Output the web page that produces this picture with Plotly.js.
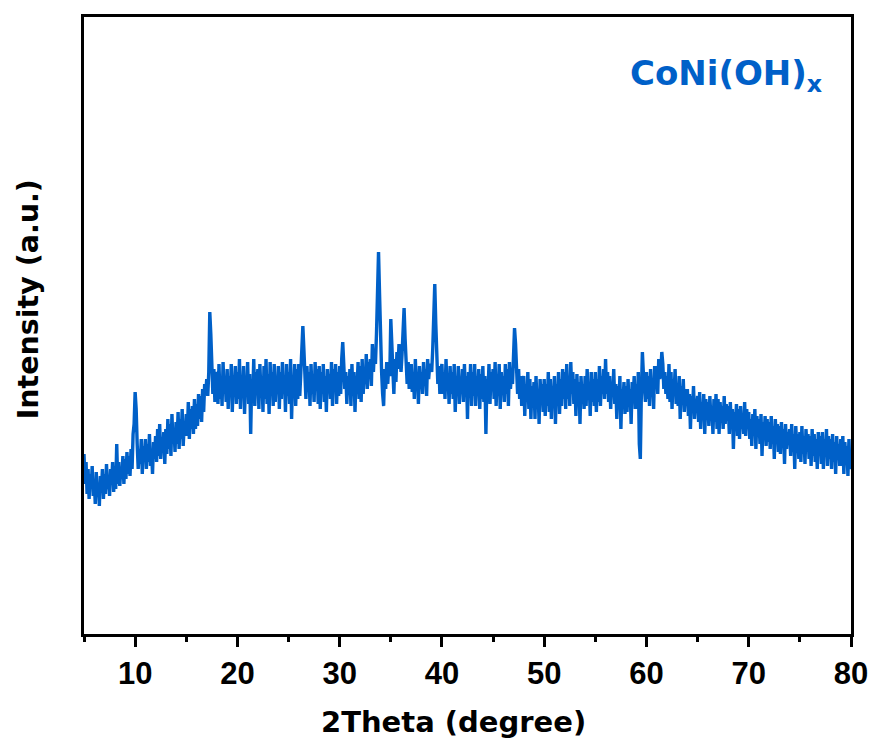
<!DOCTYPE html>
<html>
<head>
<meta charset="utf-8">
<script src="https://cdn.plot.ly/plotly-3.0.1.min.js"></script>
<style>html,body{margin:0;padding:0;background:#fff;}#chart{width:874px;height:747px;}</style>
</head>
<body>
<div id="chart"></div>
<script>
// 2Theta from 5 to 80 in 0.1 degree steps (10 values per degree per row)
const thetaStart = 5, thetaStep = 0.1;
// Intensity (a.u.)
const intensity = [
180,150,172,140,165,135,160,145,168,138,
155,130,162,138,150,128,158,142,165,135,
160,140,170,145,158,138,165,150,172,142,
168,145,190,150,172,148,165,155,178,150,
175,155,182,160,178,158,185,165,200,210,
242,225,190,165,185,170,195,160,188,172,
195,165,190,172,200,168,185,160,192,175,
198,172,205,178,210,175,195,182,202,170,
205,180,215,185,210,178,220,190,205,182,
212,190,222,185,215,195,225,188,210,198,
220,198,232,195,225,205,228,200,235,205,
230,208,240,215,238,212,245,222,250,240,
255,238,262,322,300,258,240,265,232,258,
262,230,270,235,258,228,272,240,255,232,
265,225,258,238,270,222,255,245,268,230,
262,235,275,225,258,240,268,220,255,242,
272,230,260,200,255,238,275,228,262,245,
265,225,270,240,258,222,268,235,275,230,
260,220,272,238,262,228,270,232,258,240,
268,225,262,235,272,240,258,222,270,238,
262,230,275,215,258,240,270,228,265,235,
270,238,262,280,308,285,258,235,268,242,
262,228,270,240,258,232,272,245,265,230,
268,225,262,240,270,232,258,222,265,245,
260,235,272,228,265,242,270,230,262,238,
268,240,275,292,270,245,262,230,258,240,
265,228,270,238,262,222,258,245,272,235,
268,232,275,240,262,250,280,245,272,260,
275,248,290,262,285,270,300,330,382,340,
290,262,240,228,265,245,272,250,268,258,
315,285,262,240,275,252,282,265,290,270,
262,280,300,326,295,268,250,272,245,262,
270,242,262,235,275,248,258,230,268,245,
262,240,272,248,265,238,275,255,268,270,
262,285,315,350,310,275,250,268,240,262,
270,240,262,235,275,245,258,230,268,240,
262,235,270,222,258,240,268,230,255,245,
265,232,270,240,258,215,262,238,270,228,
262,238,270,228,258,242,265,225,260,235,
268,232,258,200,255,240,270,230,262,245,
265,235,272,228,258,242,270,225,262,240,
258,232,270,240,265,228,272,245,260,250,
275,306,290,262,240,265,235,258,228,250,
258,218,250,232,262,225,255,215,248,230,
252,215,258,228,245,210,255,232,250,222,
255,218,250,228,262,222,255,215,248,235,
258,210,250,232,262,220,255,228,265,235,
262,225,270,235,258,228,272,240,262,230,
255,218,260,230,252,210,258,235,250,225,
258,228,265,235,252,218,262,232,255,228,
262,222,255,232,268,228,258,240,265,235,
275,240,262,232,258,225,252,238,265,230,
250,215,248,225,258,205,245,230,252,220,
248,222,255,228,245,210,252,235,258,225,
250,225,262,190,175,240,282,260,245,232,
262,235,258,228,265,240,255,225,268,245,
268,240,275,255,262,282,270,245,262,240,
258,235,270,232,262,225,255,240,265,230,
250,228,258,215,248,232,255,222,245,230,
245,218,240,205,238,222,248,215,235,225,
238,212,242,205,232,215,240,200,235,218,
232,208,238,215,228,200,235,212,240,205,
235,200,232,212,228,205,238,210,230,215,
228,200,232,205,225,185,222,208,230,198,
225,195,228,205,220,200,232,198,225,208,
222,195,215,188,220,200,225,185,218,198,
215,190,220,178,212,195,218,188,215,192,
212,185,218,190,208,175,215,192,210,182,
208,180,212,188,205,170,210,185,202,190,
205,178,210,182,200,165,208,185,200,175,
202,172,208,180,198,170,205,182,200,175,
198,168,205,178,200,172,195,165,202,178,
198,170,202,165,195,178,205,168,198,175,
195,165,200,172,192,160,198,175,190,168,
195,168,198,160,192,172,188,158,195,165,
170
];
const xTickVals = [10,20,30,40,50,60,70,80];
const xTickText = ["10","20","30","40","50","60","70","80"];
const sampleLabel = "CoNi(OH)<sub>x</sub>";
const xTitle = "2Theta (degree)";
const yTitle = "Intensity (a.u.)";

const twoTheta = intensity.map((_, i) => +(thetaStart + i * thetaStep).toFixed(2));
const blue = "#0060C8";
const tickFontFam = "'Liberation Sans', Arial, sans-serif";
const titleFontFam = "'DejaVu Sans', 'Liberation Sans', sans-serif";

Plotly.newPlot("chart", [{
  x: twoTheta, y: intensity, type: "scatter", mode: "lines",
  line: {color: blue, width: 3.4}, hoverinfo: "skip"
}], {
  width: 874, height: 747,
  margin: {l: 84, r: 23, t: 17, b: 113},
  paper_bgcolor: "#fff", plot_bgcolor: "#fff",
  showlegend: false,
  font: {family: tickFontFam, color: "#000"},
  xaxis: {
    range: [5, 80], tickvals: xTickVals, ticktext: xTickText,
    ticks: "outside", ticklen: 10, tickwidth: 3, tickcolor: "#000",
    minor: {dtick: 5, tick0: 5, ticks: "outside", ticklen: 5, tickwidth: 3, tickcolor: "#000", showgrid: false},
    showline: true, linewidth: 3, linecolor: "#000", mirror: true,
    showgrid: false, zeroline: false,
    tickfont: {family: tickFontFam, size: 31, color: "#000", weight: "bold"}
  },
  yaxis: {
    range: [0, 617], showticklabels: false, ticks: "",
    showline: true, linewidth: 3, linecolor: "#000", mirror: true,
    showgrid: false, zeroline: false
  },
  annotations: [
    {text: "<b>" + xTitle + "</b>", xref: "paper", yref: "paper", x: 0.482, y: -0.143,
     xanchor: "center", yanchor: "middle", showarrow: false,
     font: {family: titleFontFam, size: 29, color: "#000"}},
    {text: "<b>" + yTitle + "</b>", xref: "paper", yref: "paper", x: -0.072, y: 0.542,
     xanchor: "center", yanchor: "middle", textangle: -90, showarrow: false,
     font: {family: titleFontFam, size: 28.5, color: "#000"}},
    {text: "<b>" + sampleLabel + "</b>", xref: "paper", yref: "paper", x: 0.965, y: 0.905,
     xanchor: "right", yanchor: "middle", showarrow: false,
     font: {family: titleFontFam, size: 34, color: blue}}
  ]
}, {displayModeBar: false, staticPlot: true});
</script>
</body>
</html>
